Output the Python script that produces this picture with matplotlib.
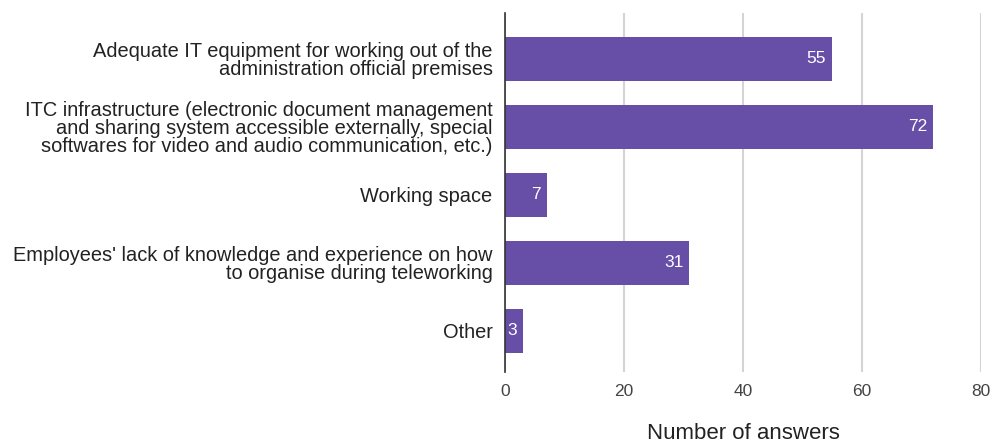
import matplotlib

matplotlib.use("Agg")
import matplotlib.pyplot as plt  # noqa: E402
import numpy as np  # noqa: E402

# dados
CATEGORIAS = [
    "Adequate IT equipment for working out of the\nadministration official premises",
    "ITC infrastructure (electronic document management\n"
    "and sharing system accessible externally, special\n"
    "softwares for video and audio communication, etc.)",
    "Working space",
    "Employees' lack of knowledge and experience on how\nto organise during teleworking",
    "Other",
]
RESPOSTAS = [55, 72, 7, 31, 3]
TICKS_X = [0, 20, 40, 60, 80]

ROXO = "#674ea7"
TEXTO = "#222222"
GRID = "#d4d4d4"

plt.rcParams["font.family"] = ["Liberation Sans", "DejaVu Sans"]

fig = plt.figure(figsize=(9.91, 4.43), dpi=100)
ax = fig.add_axes([0.5096, 0.1603, 0.4803, 0.8104])

y = np.arange(len(CATEGORIAS))
ax.barh(y, RESPOSTAS, height=0.65, color=ROXO, zorder=3)
for yi, v in zip(y, RESPOSTAS):
    ax.annotate(str(v), xy=(v, yi), xytext=(-6, 0), textcoords="offset pixels",
                ha="right", va="center", color="white", fontsize=12.5, zorder=4)

ax.set_yticks(y, CATEGORIAS, fontsize=14.4, color=TEXTO,
              linespacing=0.92, multialignment="right")
ax.set_ylim(4.603, -0.676)
ax.set_xlim(0, 80)
ax.set_xticks(TICKS_X, [str(t) for t in TICKS_X], fontsize=12.5, color="#444444")
ax.tick_params(axis="both", length=0)
ax.tick_params(axis="x", pad=9)
ax.tick_params(axis="y", pad=9)

ax.grid(axis="x", color=GRID, linewidth=1.5, zorder=0)
ax.set_axisbelow(True)
for lado in ("top", "right", "bottom"):
    ax.spines[lado].set_visible(False)
ax.spines["left"].set_color("#333333")
ax.spines["left"].set_linewidth(1.2)
ax.spines["left"].set_zorder(5)

ax.set_xlabel("Number of answers", fontsize=16, color=TEXTO, labelpad=17)

fig.savefig("out.png", dpi=100, facecolor="white")
